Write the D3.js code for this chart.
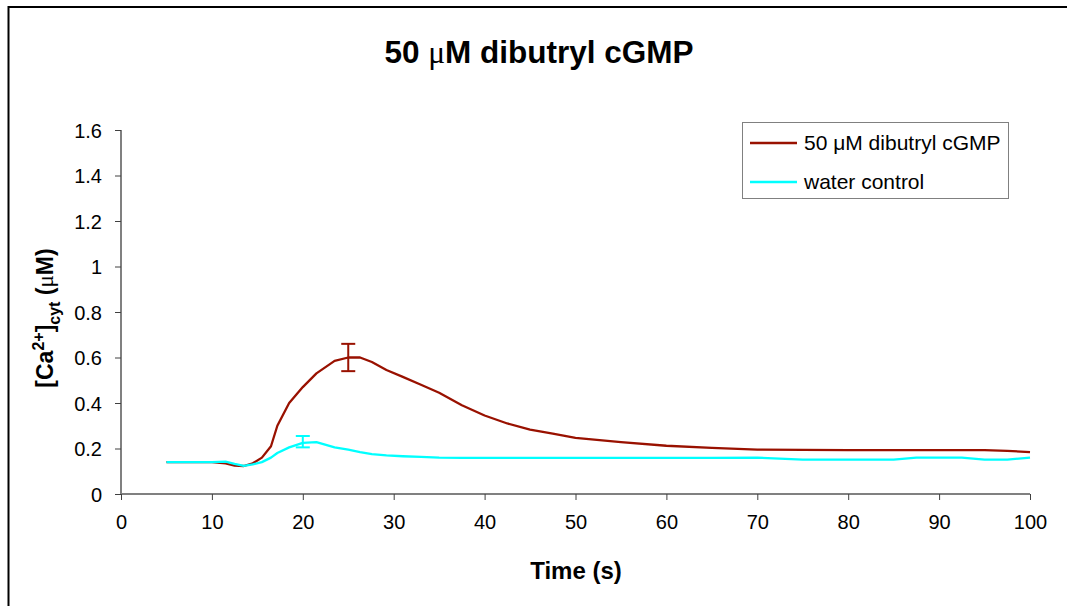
<!DOCTYPE html>
<html><head><meta charset="utf-8">
<script src="https://cdn.jsdelivr.net/npm/d3@7"></script>
<style>body{margin:0;background:#fff}svg{display:block;font-family:"Liberation Sans",Arial,sans-serif}</style>
</head><body><svg id="c" width="1067" height="606"></svg>
<script>
const times = [5,7.5,10,11.5,12.5,13.5,14.5,15.5,16.5,17.2,18.5,20,21.5,23.5,25,26.3,27.6,29.2,31,33,35,37.5,40,42.5,45,47.5,50,55,60,65,70,75,80,85,87.5,90,92.5,95,97.5,100];
const cgmp = [0.14,0.14,0.14,0.135,0.125,0.123,0.135,0.16,0.21,0.30,0.40,0.47,0.53,0.585,0.60,0.60,0.58,0.545,0.515,0.48,0.445,0.39,0.345,0.31,0.283,0.265,0.247,0.228,0.212,0.203,0.195,0.194,0.193,0.193,0.193,0.193,0.193,0.193,0.19,0.184];
const water = [0.14,0.14,0.14,0.142,0.132,0.124,0.13,0.14,0.16,0.18,0.205,0.225,0.228,0.205,0.195,0.184,0.175,0.17,0.166,0.163,0.16,0.159,0.159,0.159,0.159,0.159,0.159,0.159,0.159,0.159,0.16,0.151,0.151,0.151,0.16,0.16,0.16,0.151,0.151,0.16];
const errCgmp = {t:25, v:0.60, e:0.06};
const errWater = {t:20, v:0.23, e:0.025};
const seriesNames = ["50 \u03BCM dibutryl cGMP","water control"];
const seriesColors = ["#991100","#00FFFF"];
const xTicks = [0,10,20,30,40,50,60,70,80,90,100];
const yTicks = [0,0.2,0.4,0.6,0.8,1,1.2,1.4,1.6];

const svg = d3.select("#c");
// chart border
svg.append("rect").attr("x",8.5).attr("y",7).attr("width",1100).attr("height",700)
  .attr("fill","none").attr("stroke","#000").attr("stroke-width",2);

const x = d3.scaleLinear().domain([0,100]).range([121,1030]);
const y = d3.scaleLinear().domain([0,1.6]).range([494,130]);

// title
const title = svg.append("text").attr("x",539).attr("y",63).attr("text-anchor","middle")
  .attr("font-size",31.5).attr("font-weight","bold");
title.append("tspan").text("50 ");
title.append("tspan").attr("font-family","Liberation Serif").attr("font-weight","normal").text("\u03BC");
title.append("tspan").text("M dibutryl cGMP");

// axes
const xa = svg.append("g").attr("transform","translate(0,494)")
  .call(d3.axisBottom(x).tickValues(xTicks).tickSize(6).tickPadding(15).tickFormat(d3.format("d")));
const ya = svg.append("g").attr("transform","translate(121,0)")
  .call(d3.axisLeft(y).tickValues(yTicks).tickSize(6).tickPadding(13).tickFormat(d=>String(d)));
[xa,ya].forEach(g=>{
  g.selectAll("path").attr("stroke","#808080").attr("stroke-width",2);
  g.selectAll("line").attr("stroke","#404040").attr("stroke-width",1);
  g.selectAll("text").attr("font-size",20).attr("fill","#000").attr("font-family","Liberation Sans, Arial, sans-serif");
});
ya.selectAll("text").attr("dy","0.36em");
ya.select(".domain").attr("d","M0,494V130");
xa.select(".domain").attr("d","M121,0H1030");

// lines
const line = d3.line().x((d,i)=>x(times[i])).y(d=>y(d));
[cgmp,water].forEach((s,k)=>{
  svg.append("path").datum(s).attr("d",line).attr("fill","none")
    .attr("stroke",seriesColors[k]).attr("stroke-width",2.3).attr("stroke-linejoin","round");
});
// error bars
[[errCgmp,0],[errWater,1]].forEach(([e,k])=>{
  const g = svg.append("g").attr("stroke",seriesColors[k]).attr("stroke-width",2);
  const cx = x(e.t);
  g.append("line").attr("x1",cx).attr("x2",cx).attr("y1",y(e.v-e.e)).attr("y2",y(e.v+e.e));
  g.append("line").attr("x1",cx-7).attr("x2",cx+7).attr("y1",y(e.v-e.e)).attr("y2",y(e.v-e.e));
  g.append("line").attr("x1",cx-7).attr("x2",cx+7).attr("y1",y(e.v+e.e)).attr("y2",y(e.v+e.e));
});

// axis titles
svg.append("text").attr("x",576).attr("y",579).attr("text-anchor","middle")
  .attr("font-size",24).attr("font-weight","bold").text("Time (s)");
const yl = svg.append("text").attr("transform","translate(53,318) rotate(-90)")
  .attr("text-anchor","middle").attr("font-size",23).attr("font-weight","bold");
yl.append("tspan").text("[Ca");
yl.append("tspan").attr("font-size",16).attr("dy",-9).text("2+");
yl.append("tspan").attr("dy",9).text("]");
yl.append("tspan").attr("font-size",16).attr("dy",7).text("cyt");
yl.append("tspan").attr("dy",-7).text(" (");
yl.append("tspan").attr("font-family","Liberation Serif").attr("font-weight","normal").text("\u03BC");
yl.append("tspan").text("M)");

// legend
const lg = svg.append("g");
lg.append("rect").attr("x",742.5).attr("y",122.5).attr("width",266).attr("height",76)
  .attr("fill","#fff").attr("stroke","#808080").attr("stroke-width",1);
seriesNames.forEach((n,i)=>{
  const yy = 143 + i*39;
  lg.append("line").attr("x1",750).attr("x2",797).attr("y1",yy).attr("y2",yy)
    .attr("stroke",seriesColors[i]).attr("stroke-width",2.3);
  lg.append("text").attr("x",804).attr("y",yy+7).attr("font-size",21).text(n);
});
</script></body></html>
